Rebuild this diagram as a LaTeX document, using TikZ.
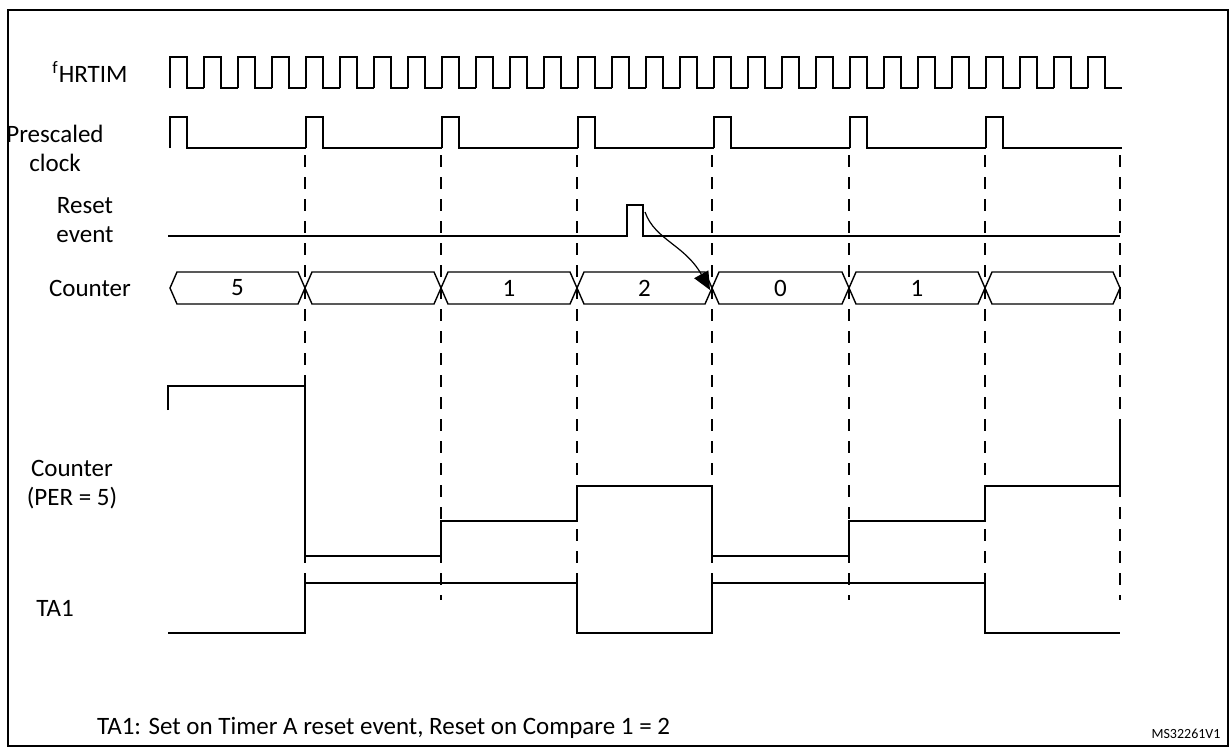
\documentclass[tikz,border=0pt]{standalone}
\usepackage{fontspec}
\setmainfont{Carlito}
\usetikzlibrary{arrows.meta}

\begin{document}
\begin{tikzpicture}[
                    x=0.5pt, y=-0.5pt,
                    every node/.style={align=center, font=\fontsize{12.5}{14.5}\selectfont},
                    wave/.style={line width=0.7pt},
                    tick/.style={dashed, dash pattern=on 6pt off 5pt, line width=0.6pt},
                    label/.style={anchor=center}
                ]

                    % Frame
                    \useasboundingbox (0,0) rectangle (1229,746);
                    \draw[line width=1.2pt] (8,10) rectangle (1228,746);

                    % Signal names
                    \node (fhr) [label] at (90,72) {\textsuperscript{f}HRTIM};
                    \node (pre) [label] at (55,148) {Prescaled\\clock};
                    \node (rst) [label] at (85,220) {Reset\\event};
                    \node (cnt) [label] at (90,288) {Counter};
                    \node (cper) [label] at (72,485) {Counter\\(PER = 5)};
                    \node (ta) [label] at (55,608) {TA1};

                    % Dashed ticks
                    \foreach \t in {305,441,577,712,849,985,1120}
                        \draw[tick] (\t,155) -- (\t,600);

                    % f_HRTIM clock
                    \foreach \k in {0,...,27}
                        \draw[wave] ({170+34*\k},88) -- ({170+34*\k},57) -- ({187+34*\k},57)
                                    -- ({187+34*\k},88) -- ({204+34*\k},88);
                    \draw[wave] (1105,88) -- (1120,88);

                    % Prescaled clock
                    \foreach \k in {0,...,6}
                        \draw[wave] ({170+136*\k},148) -- ({170+136*\k},117) -- ({187+136*\k},117)
                                    -- ({187+136*\k},148) -- ({306+136*\k},148);
                    \draw[wave] (1105,148) -- (1120,148);

                    % Reset event
                    \draw[wave] (168,236) -- (627,236) -- (627,205) -- (643,205) -- (643,236) -- (1120,236);
                    \coordinate (rstp) at (645,212);
                    \coordinate (rld) at (710,290);
                    \draw[-{Triangle[length=9pt,width=8pt]}, line width=0.6pt] (rstp) .. controls (655,240) and (685,245) .. (rld);

                    % Counter bus
                    \foreach \a/\b/\v in {170/305/5, 305/441/{}, 441/577/1, 577/712/2, 712/849/0, 849/985/1, 985/1120/{}} {
                        \draw[wave] (\a,288) -- (\a+7,272) -- (\b-7,272) -- (\b,288) -- (\b-7,304) -- (\a+7,304) -- cycle;
                        \node at ({(\a+\b)/2},288) {\v};
                    }

                    % Counter value
                    \draw[wave] (168,410) -- (168,386) -- (305,386) -- (305,556) -- (441,556) -- (441,521)
                                -- (577,521) -- (577,486) -- (712,486) -- (712,556) -- (849,556) -- (849,521)
                                -- (985,521) -- (985,486) -- (1120,486) -- (1120,420);

                    % TA1
                    \draw[wave] (168,633) -- (305,633) -- (305,583) -- (577,583) -- (577,633) -- (712,633)
                                -- (712,583) -- (985,583) -- (985,633) -- (1120,633);

                    % Notes
                    \node (note) [anchor=west] at (90,728) {TA1: Set on Timer A reset event, Reset on Compare 1 = 2};
                    \node (ref) [font=\fontsize{7}{8}\selectfont] at (1186,734) {MS32261V1};

                \end{tikzpicture}
\end{document}
